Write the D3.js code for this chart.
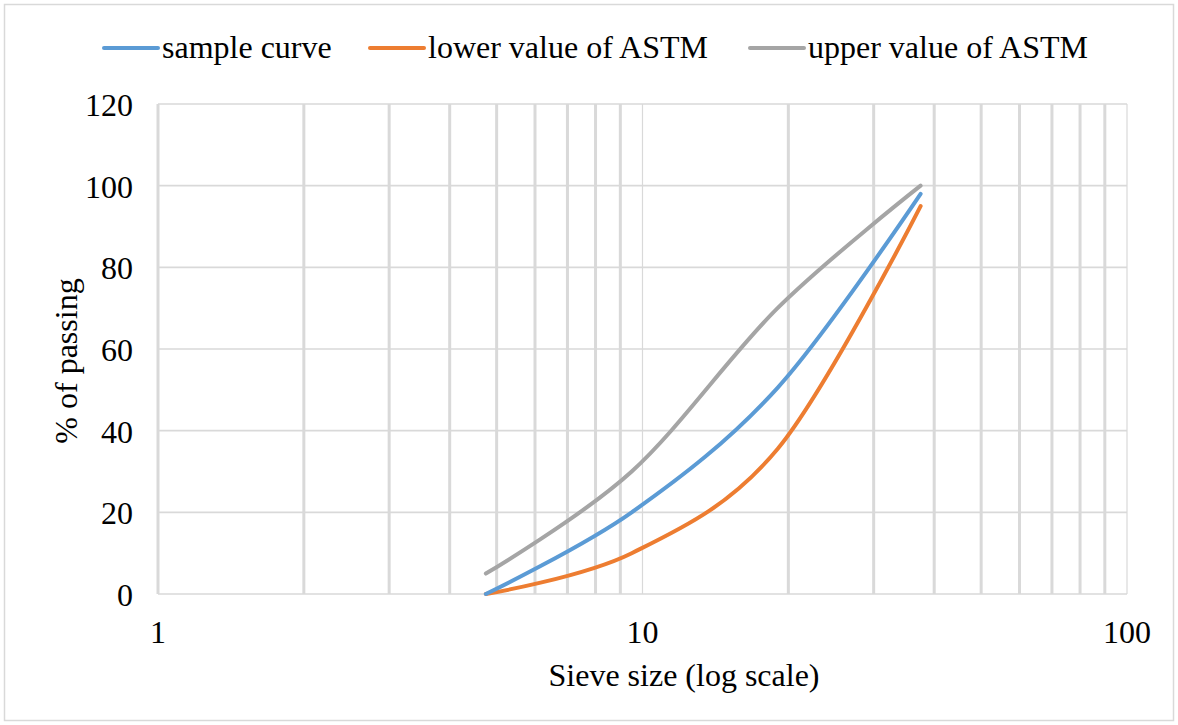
<!DOCTYPE html>
<html>
<head>
<meta charset="utf-8">
<script src="https://cdn.jsdelivr.net/npm/d3@7"></script>
<style>
  html, body { margin: 0; padding: 0; background: #fff; }
  svg { display: block; }
  text { font-family: "Liberation Serif", "Times New Roman", serif; fill: #000; }
</style>
</head>
<body>
<svg id="chart" width="1178" height="725"></svg>
<script>
// Sieve sizes (mm) and percentage passing for each gradation
const sieveSizes = [4.75, 9.5, 19, 37.5];
const sampleValues = [0, 20, 50.5, 98];
const lowerValues = [0, 10, 35.5, 95];
const upperValues = [5, 30, 70, 100];

const seriesNames = ["sample curve", "lower value of ASTM", "upper value of ASTM"];
const seriesColors = ["#5B9BD5", "#ED7D31", "#A5A5A5"];

const xTicks = [1, 10, 100];
const yTicks = [0, 20, 40, 60, 80, 100, 120];

const W = 1178, H = 725;
const plot = { left: 158, right: 1127, top: 104, bottom: 594 };
const fontSize = 32;

const svg = d3.select("#chart");

// outer chart frame
svg.append("rect")
  .attr("x", 4.5).attr("y", 4.5)
  .attr("width", W - 9).attr("height", H - 9)
  .attr("fill", "#fff").attr("stroke", "#d9d9d9").attr("stroke-width", 1.5);

const x = d3.scaleLog().domain([1, 100]).range([plot.left, plot.right]);
const y = d3.scaleLinear().domain([0, 120]).range([plot.bottom, plot.top]);

// horizontal gridlines
svg.append("g").selectAll("line").data(yTicks).join("line")
  .attr("x1", plot.left).attr("x2", plot.right)
  .attr("y1", d => y(d)).attr("y2", d => y(d))
  .attr("stroke", "#d9d9d9").attr("stroke-width", 1.6);

// vertical gridlines: minor lines are heavier than the decade lines
const minor = [];
for (const dec of [1, 10]) for (let k = 2; k <= 9; k++) minor.push(dec * k);
svg.append("g").selectAll("line").data(minor).join("line")
  .attr("x1", d => x(d)).attr("x2", d => x(d))
  .attr("y1", plot.top).attr("y2", plot.bottom)
  .attr("stroke", "#d9d9d9").attr("stroke-width", 3);
svg.append("g").selectAll("line").data(xTicks).join("line")
  .attr("x1", d => x(d)).attr("x2", d => x(d))
  .attr("y1", plot.top).attr("y2", plot.bottom)
  .attr("stroke", "#d9d9d9").attr("stroke-width", d => d === 1 ? 3 : 1.2);

// tick labels
svg.append("g").selectAll("text").data(yTicks).join("text")
  .attr("x", 133).attr("y", d => y(d) + 12)
  .attr("text-anchor", "end").attr("font-size", fontSize)
  .text(d => d);
svg.append("g").selectAll("text").data(xTicks).join("text")
  .attr("x", d => x(d)).attr("y", 643)
  .attr("text-anchor", "middle").attr("font-size", fontSize)
  .text(d => d);

// axis titles
svg.append("text")
  .attr("x", 684).attr("y", 686)
  .attr("text-anchor", "middle").attr("font-size", fontSize)
  .text("Sieve size (log scale)");
svg.append("text")
  .attr("transform", "translate(77, 361) rotate(-90)")
  .attr("text-anchor", "middle").attr("font-size", fontSize)
  .text("% of passing");

// gradation curves, smoothed
const line = d3.line().x(d => x(d[0])).y(d => y(d[1])).curve(d3.curveCardinal.tension(0));
const seriesValues = [sampleValues, lowerValues, upperValues];
const drawOrder = [2, 1, 0];
svg.append("g").selectAll("path").data(drawOrder).join("path")
  .attr("d", i => line(d3.zip(sieveSizes, seriesValues[i])))
  .attr("fill", "none")
  .attr("stroke", i => seriesColors[i])
  .attr("stroke-width", 4)
  .attr("stroke-linecap", "round")
  .attr("stroke-linejoin", "round");

// legend
const legendX = [104, 370, 750];
const legend = svg.append("g").selectAll("g").data(seriesNames).join("g")
  .attr("transform", (d, i) => `translate(${legendX[i]}, 48)`);
legend.append("line")
  .attr("x1", 0).attr("x2", 54).attr("y1", 0).attr("y2", 0)
  .attr("stroke", (d, i) => seriesColors[i]).attr("stroke-width", 4)
  .attr("stroke-linecap", "round");
legend.append("text")
  .attr("x", 58).attr("y", 10)
  .attr("font-size", fontSize)
  .text(d => d);
</script>
</body>
</html>
